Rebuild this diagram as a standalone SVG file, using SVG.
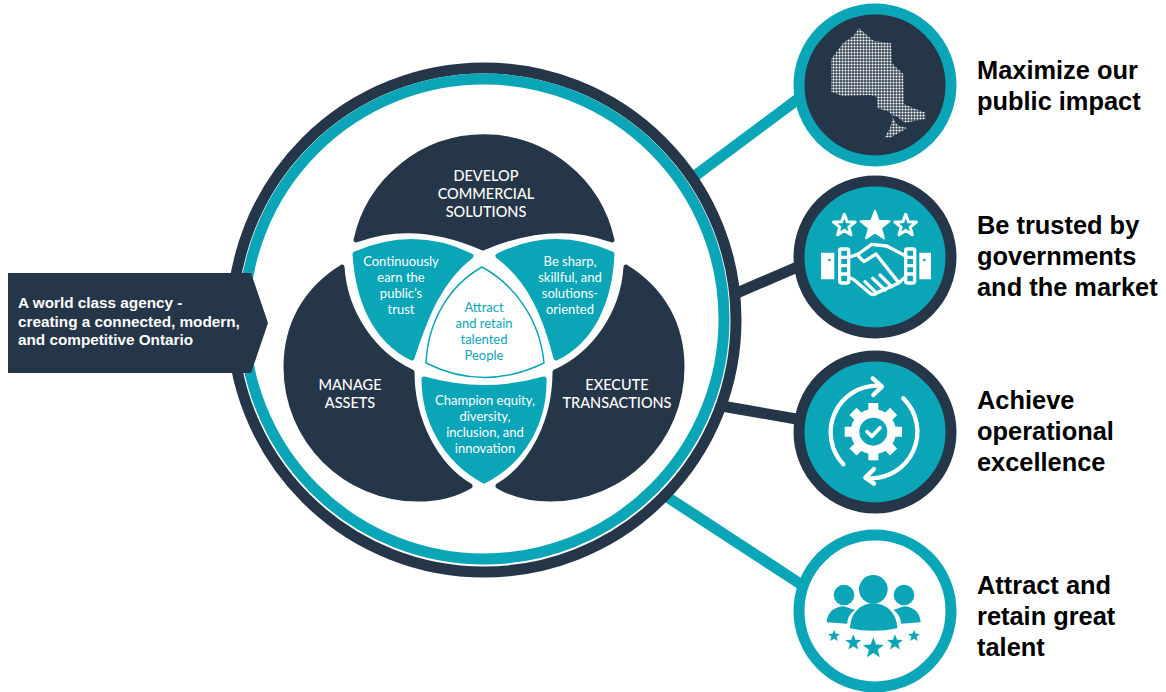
<svg xmlns="http://www.w3.org/2000/svg" width="1166" height="692" viewBox="0 0 1166 692">
<style>
.navy{fill:#253648}.teal{fill:#0ba5b8}
.ln{stroke-width:11;fill:none}
.h{font-family:"Liberation Sans",Arial,sans-serif;font-weight:700;font-size:25.4px;fill:#000}
.v{font-family:Lato,"Open Sans",sans-serif;text-anchor:middle}
.cap{font-size:14.5px;fill:#fff;font-weight:500}
.sm{font-size:13px;fill:#fff}
.blob{stroke-width:5;stroke-linejoin:round}
.w{fill:none;stroke:#fff;stroke-linecap:round;stroke-linejoin:round}
</style>
<defs>
<path id="star" d="M0,-1L.247,-.34L.951,-.309L.4,.13L.588,.809L0,.42L-.588,.809L-.4,.13L-.951,-.309L-.247,-.34Z"/>
<pattern id="dots" x="0" y="0" width="9" height="9" patternUnits="userSpaceOnUse"><rect x="1.5" y="1.5" width="6" height="6" rx="1.5" fill="#fff"/></pattern>
<clipPath id="on"><path d="M207,84L250,122L303,130L306,190L340,222L342,312L372,325L407,338L407,357L345,368L318,348L303,345L322,375L352,385L300,413L283,413L300,385L308,352L298,335L262,325L260,290L240,285L158,288L123,275L123,178L160,128L190,108Z"/></clipPath>
</defs>

<g id="connectors">
<path class="ln" stroke="#0ba5b8" d="M688,181L802,96"/>
<path class="ln" stroke="#253648" d="M730,296L802,265"/>
<path class="ln" stroke="#253648" d="M716,405L802,420"/>
<path class="ln" stroke="#0ba5b8" d="M658,491L802,585"/>
</g>

<g id="hub">
<circle cx="484" cy="320" r="252" fill="#fff" stroke="#253648" stroke-width="11"/>
<circle cx="484" cy="319" r="240" fill="none" stroke="#0ba5b8" stroke-width="11"/>
</g>

<g id="develop">
<path class="navy blob" stroke="#253648" d="M356,240A131,131 0 0 1 612,240Q553,218 483,248Q415,218 356,240Z"/>
<text class="v cap"><tspan x="486" y="181">DEVELOP</tspan><tspan x="486" y="199">COMMERCIAL</tspan><tspan x="486" y="217">SOLUTIONS</tspan></text>
</g>
<g id="manage">
<path class="navy blob" stroke="#253648" d="M342,267C305,290 286,325 286,367C286,440 345,499 418,499C436,499 455,495 470,486C435,465 412,420 412,372C375,355 345,315 342,267Z"/>
<text class="v cap"><tspan x="350" y="390">MANAGE</tspan><tspan x="350" y="408">ASSETS</tspan></text>
</g>
<g id="execute">
<path class="navy blob" stroke="#253648" d="M626,267C663,290 682,325 682,367C682,440 623,499 550,499C532,499 513,495 498,486C533,465 555,420 555,372C593,355 623,315 626,267Z"/>
<text class="v cap"><tspan x="617" y="390">EXECUTE</tspan><tspan x="617" y="408">TRANSACTIONS</tspan></text>
</g>
<g id="earn">
<path class="teal blob" stroke="#0ba5b8" d="M355,254Q415,228 471,256C440,280 426,315 412,358C375,340 358,300 355,254Z" stroke-width="3"/>
<text class="v sm"><tspan x="401" y="266">Continuously</tspan><tspan x="401" y="282">earn the</tspan><tspan x="401" y="298">public’s</tspan><tspan x="401" y="314">trust</tspan></text>
</g>
<g id="sharp">
<path class="teal blob" stroke="#0ba5b8" d="M612,254Q553,228 498,256C530,280 545,315 556,358C593,340 610,300 612,254Z" stroke-width="3"/>
<text class="v sm"><tspan x="570" y="266">Be sharp,</tspan><tspan x="570" y="282">skillful, and</tspan><tspan x="570" y="298">solutions-</tspan><tspan x="570" y="314">oriented</tspan></text>
</g>
<g id="champion">
<path class="teal blob" stroke="#0ba5b8" d="M424,379Q484,396 544,379C545,420 525,460 484,481C445,460 424,420 424,379Z" stroke-width="3"/>
<text class="v sm"><tspan x="485" y="405">Champion equity,</tspan><tspan x="485" y="421">diversity,</tspan><tspan x="485" y="437">inclusion, and</tspan><tspan x="485" y="453">innovation</tspan></text>
</g>
<g id="people">
<path fill="#fff" stroke="#0ba5b8" stroke-width="1.5" stroke-linejoin="round" d="M482,267C515,285 540,320 544,363Q484,392 426,363C428,320 450,285 482,267Z"/>
<text class="v" font-size="13" fill="#0ba5b8"><tspan x="484" y="312">Attract</tspan><tspan x="484" y="328">and retain</tspan><tspan x="484" y="344">talented</tspan><tspan x="484" y="360">People</tspan></text>
</g>

<g id="vision">
<path class="navy" d="M8,273H251L268,323L251,373H8Z"/>
<text font-family="Liberation Sans,Arial,sans-serif" font-weight="700" font-size="15.3" fill="#fff"><tspan x="18" y="308">A world class agency -</tspan><tspan x="18" y="327">creating a connected, modern,</tspan><tspan x="18" y="345">and competitive Ontario</tspan></text>
</g>

<g id="impact">
<circle cx="875" cy="85" r="76" fill="#253648" stroke="#0ba5b8" stroke-width="11"/>
<g transform="translate(790,0) scale(.33333)"><rect x="120" y="81" width="288" height="333" fill="url(#dots)" clip-path="url(#on)"/></g>
<text class="h"><tspan x="977" y="79">Maximize our</tspan><tspan x="977" y="110">public impact</tspan></text>
</g>

<g id="trusted">
<circle cx="875" cy="257" r="76" fill="#0ba5b8" stroke="#253648" stroke-width="11"/>
<g transform="translate(790,0) scale(.3333)">
<use href="#star" transform="translate(163,677) scale(34)" fill="none" stroke="#fff" stroke-width=".27" stroke-linejoin="round"/>
<use href="#star" transform="translate(347,677) scale(34)" fill="none" stroke="#fff" stroke-width=".27" stroke-linejoin="round"/>
<use href="#star" transform="translate(255,678) scale(46)" fill="#fff" stroke="#fff" stroke-width=".12" stroke-linejoin="round"/>
<path fill="#fff" d="M93,758H133V838H93ZM388,758H423V838H388Z"/>
<circle cx="118" cy="780" r="4" fill="#0ba5b8"/><circle cx="403" cy="780" r="4" fill="#0ba5b8"/>
<g class="w" stroke-width="10">
<rect x="149" y="747" width="27" height="102" rx="5"/><rect x="347" y="747" width="27" height="102" rx="5"/>
<path d="M149,772H176M149,797H176M149,822H176M347,772H374M347,797H374M347,822H374"/>
<path d="M176,772L205,762L245,733L290,738L347,768"/>
<path d="M176,833L190,838L240,880Q252,888 262,878L325,850L347,830"/>
<path d="M205,768L222,785L258,762L326,848"/>
<path d="M225,845L258,878M248,835L285,870M270,825L305,860"/>
</g></g>
<text class="h"><tspan x="977" y="234">Be trusted by</tspan><tspan x="977" y="265">governments</tspan><tspan x="977" y="296">and the market</tspan></text>
</g>

<g id="excellence">
<circle cx="875" cy="432" r="76" fill="#0ba5b8" stroke="#253648" stroke-width="11"/>
<g transform="translate(790,345) scale(.3333)">
<g fill="#fff">
<circle cx="250" cy="260" r="68"/>
<path d="M235,174H265V346H235Z"/>
<path d="M235,174H265V346H235Z" transform="rotate(45 250 260)"/>
<path d="M235,174H265V346H235Z" transform="rotate(90 250 260)"/>
<path d="M235,174H265V346H235Z" transform="rotate(135 250 260)"/>
</g>
<circle cx="250" cy="260" r="42" fill="#0ba5b8"/>
<g class="w">
<path stroke-width="11" d="M231,260L246,274L270,248"/>
<path stroke-width="13" d="M160,358A140,140 0 0 1 265,122M248,100L276,125L250,150"/>
<path stroke-width="13" d="M340,160A140,140 0 0 1 235,400M252,372L226,398L252,416"/>
</g></g>
<text class="h"><tspan x="977" y="409">Achieve</tspan><tspan x="977" y="440">operational</tspan><tspan x="977" y="471">excellence</tspan></text>
</g>

<g id="talent">
<circle cx="875" cy="611" r="76" fill="#fff" stroke="#0ba5b8" stroke-width="11"/>
<g transform="translate(790,345) scale(.3333)" fill="#0ba5b8">
<circle cx="162" cy="750" r="31"/><circle cx="342" cy="750" r="31"/>
<path d="M110,832C112,800 135,785 162,784L195,795C180,805 172,820 172,836Z"/>
<path d="M392,832C390,800 368,785 342,784L310,795C325,805 333,820 333,836Z"/>
<circle cx="250" cy="733" r="43"/>
<path d="M180,850C182,800 215,775 250,775C285,775 320,800 322,850Q250,865 180,850Z"/>
<use href="#star" transform="translate(132,873) scale(19)"/>
<use href="#star" transform="translate(190,893) scale(25)"/>
<use href="#star" transform="translate(250,910) scale(33)"/>
<use href="#star" transform="translate(315,893) scale(25)"/>
<use href="#star" transform="translate(372,873) scale(19)"/>
</g>
<text class="h"><tspan x="977" y="594">Attract and</tspan><tspan x="977" y="625">retain great</tspan><tspan x="977" y="656">talent</tspan></text>
</g>
</svg>
